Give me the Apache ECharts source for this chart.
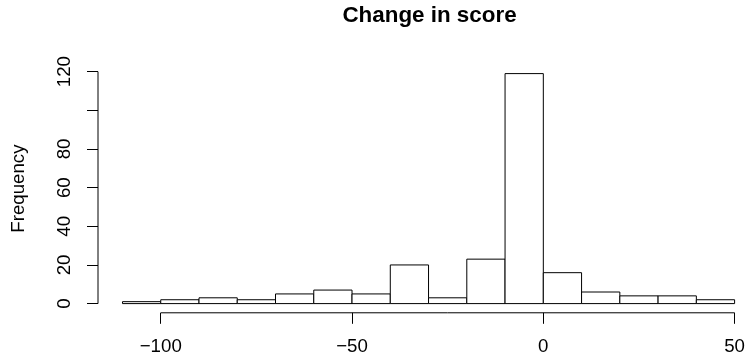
<!DOCTYPE html>
<html>
<head>
<meta charset="utf-8">
<script src="https://cdn.jsdelivr.net/npm/echarts@6/dist/echarts.min.js"></script>
<style>
  html, body { margin: 0; padding: 0; background: #fff; }
  #chart { width: 748px; height: 360px; }
</style>
</head>
<body>
<div id="chart"></div>
<script>
// Histogram of score changes (bins of width 10)
const binEdges = [-110, -100, -90, -80, -70, -60, -50, -40, -30, -20, -10, 0, 10, 20, 30, 40, 50];
const counts   = [1, 2, 3, 2, 5, 7, 5, 20, 3, 23, 119, 16, 6, 4, 4, 2];

// Axis ticks and their labels
const xTicks = [-100, -50, 0, 50];
const yTicks = [0, 20, 40, 60, 80, 100, 120];
const yTickLabels = [0, 20, 40, 60, 80, 120];

// Visible plot region extents (the right side runs off the canvas edge)
const xRange = [-116.4, 52.87];
const yRange = [-4.76, 123.76];

const FONT = "'Liberation Sans', Arial, Helvetica, sans-serif";
const minus = v => String(v).replace('-', '\u2212');

const bins = counts.map((c, i) => [binEdges[i], binEdges[i + 1], c]);

const chart = echarts.init(document.getElementById('chart'), null, { renderer: 'canvas' });

chart.setOption({
  animation: false,
  backgroundColor: '#ffffff',
  title: {
    text: 'Change in score',
    left: 429.5,
    top: 5,
    padding: 0,
    textAlign: 'center',
    textStyle: { fontFamily: FONT, fontWeight: 'bold', fontSize: 22.4, color: '#000' }
  },
  grid: { left: 98, right: 0, top: 64.4, bottom: 47.2, containLabel: false },
  xAxis: {
    type: 'value',
    min: xRange[0],
    max: xRange[1],
    splitLine: { show: false },
    axisLine: { show: false, onZero: false },
    axisTick: { show: true, length: 11, customValues: xTicks, lineStyle: { color: '#000', width: 1 } },
    axisLabel: {
      show: true, customValues: xTicks, margin: 25, formatter: minus,
      fontFamily: FONT, fontSize: 18.7, color: '#000'
    }
  },
  yAxis: {
    type: 'value',
    min: yRange[0],
    max: yRange[1],
    name: 'Frequency',
    nameLocation: 'middle',
    nameRotate: 90,
    nameGap: 70,
    nameTextStyle: { fontFamily: FONT, fontSize: 18.7, color: '#000' },
    splitLine: { show: false },
    axisLine: { show: false, onZero: false },
    axisTick: { show: true, length: 11, customValues: yTicks, lineStyle: { color: '#000', width: 1 } },
    axisLabel: {
      show: true, customValues: yTickLabels, rotate: 90, margin: 24,
      fontFamily: FONT, fontSize: 18.7, color: '#000'
    }
  },
  series: [
    {
      type: 'custom',
      data: bins,
      encode: { x: [0, 1], y: 2 },
      renderItem: function (params, api) {
        const p0 = api.coord([api.value(0), api.value(2)]);
        const p1 = api.coord([api.value(1), 0]);
        return {
          type: 'rect',
          shape: { x: p0[0], y: p0[1], width: p1[0] - p0[0], height: p1[1] - p0[1] },
          style: { fill: '#ffffff', stroke: '#000000', lineWidth: 1 }
        };
      },
      silent: true,
      clip: false
    },
    {
      // x axis line from first to last tick, along the bottom of the plot region
      type: 'line',
      data: [[xTicks[0], yRange[0]], [xTicks[xTicks.length - 1], yRange[0]]],
      symbol: 'none',
      lineStyle: { color: '#000', width: 1 },
      silent: true,
      clip: false
    },
    {
      // y axis line from first to last tick, along the left of the plot region
      type: 'line',
      data: [[xRange[0], yTicks[0]], [xRange[0], yTicks[yTicks.length - 1]]],
      symbol: 'none',
      lineStyle: { color: '#000', width: 1 },
      silent: true,
      clip: false
    }
  ]
});
</script>
</body>
</html>
